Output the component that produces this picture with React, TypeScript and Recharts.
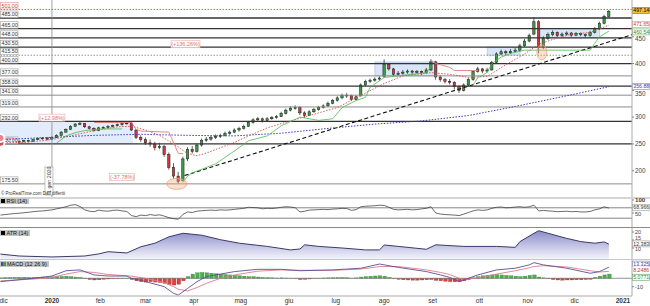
import React from 'react';
import {
  Area,
  Bar,
  ComposedChart,
  Line,
  ReferenceArea,
  ReferenceDot,
  ReferenceLine,
  XAxis,
  YAxis,
} from 'recharts';

const FONT = 'Arial, "Liberation Sans", sans-serif';
const X_DOMAIN: [number, number] = [-33.3, 371.8];
const FIRST_DAY = -33; // 28 nov 2019, days counted from 1 gen 2020
const STEP = 3;

const monthTicks = [-31, 0, 31, 60, 91, 121, 152, 182, 213, 244, 274, 305, 335, 366];
const monthNames = ['dic', '2020', 'feb', 'mar', 'apr', 'mag', 'giu', 'lug', 'ago', 'set', 'ott', 'nov', 'dic', '2021'];

// [open, high, low, close], one every 3 days
const candles: [number, number, number, number][] = [
  [251, 256, 249, 253], [253, 255, 250, 252], [252, 256, 251, 254], [254, 256, 251, 253], [253, 257, 252, 255],
  [255, 258, 253, 256], [256, 258, 253, 255], [255, 260, 254, 258], [258, 262, 257, 260], [260, 263, 258, 261],
  [261, 263, 257, 259], [259, 264, 258, 262], [262, 268, 261, 266], [266, 274, 265, 272], [272, 279, 271, 277],
  [277, 285, 276, 283], [283, 289, 282, 287], [287, 291, 285, 288], [288, 289, 280, 282], [282, 284, 277, 279],
  [279, 281, 273, 275], [275, 282, 274, 280], [280, 283, 278, 281], [281, 285, 279, 283], [283, 286, 281, 284],
  [284, 288, 283, 286], [286, 290, 284, 288], [288, 292, 286, 289], [289, 290, 274, 276], [276, 278, 259, 262],
  [262, 266, 254, 258], [258, 262, 248, 252], [252, 258, 245, 250], [250, 254, 238, 243], [243, 252, 240, 245],
  [245, 248, 226, 230], [230, 234, 202, 206], [206, 214, 185, 190], [190, 198, 175.5, 180], [182, 226, 180, 222],
  [222, 244, 218, 240], [240, 246, 232, 236], [236, 251, 234, 248], [248, 260, 245, 257], [257, 263, 254, 259],
  [259, 265, 256, 262], [262, 268, 259, 264], [264, 269, 261, 266], [266, 273, 264, 270], [270, 275, 267, 272],
  [272, 279, 270, 276], [276, 282, 273, 279], [279, 286, 277, 283], [283, 293, 282, 290], [290, 298, 288, 295],
  [295, 300, 292, 297], [297, 299, 290, 294], [294, 300, 292, 297], [297, 302, 295, 299], [299, 304, 297, 301],
  [301, 310, 300, 307], [307, 316, 305, 313], [313, 320, 311, 317], [317, 322, 314, 318], [318, 320, 304, 308],
  [308, 311, 299, 303], [303, 313, 302, 310], [310, 317, 308, 314], [314, 321, 312, 318], [318, 324, 316, 321],
  [321, 329, 319, 326], [326, 334, 324, 331], [331, 339, 329, 336], [336, 344, 334, 341], [341, 345, 336, 340],
  [340, 342, 330, 333], [333, 341, 331, 338], [340, 363, 338, 360], [360, 370, 358, 367], [367, 372, 364, 369],
  [369, 374, 366, 371], [371, 376, 368, 373], [376, 408, 374, 398], [398, 400, 387, 390], [390, 392, 376, 380],
  [380, 386, 377, 382], [382, 388, 379, 384], [384, 389, 381, 386], [386, 388, 380, 384], [384, 388, 381, 385],
  [385, 387, 379, 383], [383, 392, 381, 388], [388, 408, 386, 403], [403, 405, 370, 375], [375, 378, 366, 370],
  [370, 373, 363, 367], [367, 371, 361, 365], [365, 367, 352, 357], [357, 359, 345, 350], [350, 363, 348, 360],
  [360, 373, 357, 370], [370, 388, 368, 385], [385, 394, 383, 390], [390, 392, 382, 386], [386, 392, 383, 388],
  [388, 405, 387, 402], [402, 421, 400, 418], [418, 426, 416, 422], [422, 425, 416, 420], [420, 427, 418, 423],
  [423, 429, 421, 425], [425, 437, 423, 433], [433, 446, 431, 442], [442, 456, 440, 452], [455, 486, 453, 478],
  [478, 481, 419, 430], [430, 451, 427, 447], [447, 458, 444, 454], [454, 462, 451, 458], [458, 460, 449, 452],
  [452, 458, 450, 455], [455, 460, 452, 457], [457, 459, 450, 453], [453, 459, 451, 456], [456, 458, 451, 454],
  [454, 456, 449, 452], [452, 461, 450, 458], [458, 468, 456, 465], [465, 478, 463, 475], [475, 491, 473, 488],
  [488, 500, 486, 497],
];

// [candle index, value]
const ma20Pts: [number, number][] = [
  [0, 252], [5, 253], [10, 257], [15, 265], [20, 275], [25, 282], [28, 283], [31, 276], [34, 266], [37, 250],
  [40, 232], [42, 228], [44, 233], [47, 243], [50, 253], [53, 265], [57, 280], [60, 288], [64, 298], [68, 308],
  [72, 318], [78, 345], [82, 363], [86, 377], [92, 383], [96, 380], [100, 374], [104, 376], [108, 398],
  [112, 418], [115, 436], [118, 445], [122, 455], [126, 458], [130, 471.65],
];
const ma200Pts: [number, number][] = [
  [0, 258], [10, 262], [20, 266], [30, 268], [40, 266], [50, 265], [60, 270], [70, 279], [80, 287], [90, 293],
  [100, 303], [110, 320], [120, 338], [130, 356.88],
];
const greenStops: [number, number][][] = [
  [[12, 252], [13, 258], [14, 265], [16, 271], [18, 275], [22, 278], [26, 278]],
  [[39, 178], [40, 190], [41, 196], [46, 213], [50, 237], [53, 256], [57, 265], [60, 284], [64, 300], [68, 294],
    [71, 297], [73, 318], [76, 331], [78, 337], [79, 356], [82, 374], [91, 383], [92, 395]],
  [[101, 360], [102, 374], [103, 378], [104, 384], [105, 400], [107, 412], [109, 419], [112, 425], [126, 425],
    [127, 438], [128, 450], [130, 460.54]],
];
const redStops: [number, number][][] = [
  [[0, 261], [3, 261]],
  [[20, 290], [28, 290], [29, 277], [30, 274], [36, 272], [38, 232], [39, 232]],
  [[92, 406], [93, 400], [96, 393], [97, 387], [102, 387]],
];

const levels = [501, 485, 465, 448, 430.5, 415.5, 400, 377, 358, 341, 319, 292, 250, 175.5];
const strongLevels = [485, 465, 448, 430.5, 400, 358, 292, 250];

const rsi = [
  42, 44, 46, 48, 49, 51, 53, 55, 57, 58,
  60, 62, 66, 70, 74, 80, 82, 75, 62, 57,
  55, 61, 58, 57, 60, 61, 58, 56, 40, 36,
  42, 40, 44, 41, 43, 38, 32, 28, 26, 45,
  54, 52, 57, 59, 60, 61, 60, 62, 61, 62,
  64, 66, 68, 72, 71, 70, 66, 68, 67, 69,
  72, 74, 73, 70, 54, 57, 61, 62, 63, 64,
  63, 65, 66, 68, 67, 60, 63, 74, 76, 77,
  78, 80, 79, 72, 64, 62, 63, 64, 62, 63,
  66, 68, 74, 50, 46, 44, 43, 42, 40, 46,
  52, 58, 62, 60, 62, 68, 72, 73, 70, 71,
  73, 74, 72, 74, 80, 58, 60, 58, 57, 55,
  56, 57, 55, 56, 54, 54, 56, 62, 66, 74,
  68.966,
];
const atrPts: [number, number][] = [
  [0, 6.2], [4, 5], [11, 4.4], [18, 5], [21, 6.3], [23, 7.7], [27, 6.9], [30, 10.8], [33, 13], [36, 17],
  [39, 19.2], [43, 18], [47, 15.2], [51, 13], [57, 11], [62, 8.8], [64, 9.4], [65, 12], [68, 11], [73, 10],
  [78, 8.8], [81, 8.8], [82, 11.9], [85, 11], [91, 9.2], [93, 12], [99, 11], [106, 11], [110, 10.4], [111, 14],
  [114, 19.2], [115, 20.8], [117, 19.2], [121, 16], [124, 14], [127, 13], [129, 13.8], [130, 12.383],
];
const macdPts: [number, number][] = [
  [0, -4], [7, 0], [11, 2.7], [14, 9], [17, 10], [20, 4], [23, 2.7], [27, 2.7], [28, 0], [31, -4], [35, -10],
  [37, -18], [38, -20], [40, -12], [42, -4], [44, 2], [47, 5], [50, 8], [55, 10.7], [60, 10.7], [64, 9],
  [71, 10], [77, 12], [81, 17], [85, 13], [91, 8], [94, 4], [96, 1], [98, -4], [99, -2], [102, 4], [106, 10],
  [110, 12], [113, 16], [114, 18.6], [116, 16], [121, 12], [126, 6], [128, 8], [130, 13.325],
];
const signalPts: [number, number][] = [
  [0, -3], [7, -1], [11, 1], [14, 5], [17, 8], [20, 7], [23, 4.5], [27, 3], [28, 2.5], [31, 0], [35, -5],
  [37, -10], [38, -13], [40, -15], [42, -11], [44, -6], [47, 0], [50, 4], [55, 8.5], [60, 10], [64, 9.5],
  [71, 9.5], [77, 11], [81, 14], [85, 14], [91, 10], [94, 7], [96, 4.5], [98, 0], [99, -1], [102, 0.5],
  [106, 5], [110, 9], [113, 12.5], [114, 14], [116, 15], [121, 13.5], [126, 9], [128, 7.5], [130, 8.2486],
];
const macdHist = [
  0.5, 0.8, 1, 1, 1.2, 1.2, 1, 1,
  1.2, 1.5, 1.5, 1.8, 2, 2.2, 2.5, 2, 1.5,
  1, -0.5, -1.5, -2, -1.8, -1.2, -0.8, -0.5, -0.3, -0.2, 0.2,
  -1.5, -3, -4, -4.5, -4, -4.5, -5, -6, -7.5, -8, -7,
  -3, 2, 5, 6.5, 7, 6.5, 6, 5.5, 5, 4.5, 4, 3.5,
  3, 2.5, 2, 2, 1.5, 1, 0.8, 0.5, 0.3, 0.5,
  0.3, -0.2, -0.5, -1.5, -1.2, -0.8, -0.3, 0.2, 0.4, 0.5,
  0.6, 0.8, 0.9, 0.6, 0.2, 0.5, 1.5, 2, 2.5, 2.8,
  3, 2.5, 1, -0.5, -1.2, -1.8, -2, -2.2, -2.2, -2, -1.8, -1.5,
  -2.5, -3, -3.5, -4, -4.2, -4, -3, -1.5, 0.5,
  2, 3, 3.5, 4, 4.5, 4, 3.5, 3, 2.5, 2, 2.5,
  3.5, 4, 1.5, 0.5, -0.5, -1.5,
  -2, -2.2, -2, -2, -1.8, -1.8, -1.5, -1.2,
  1, 2.5, 4, 5.0771,
];

const put = (rows: any[], key: string, pts: [number, number][]) => {
  pts.forEach(([i, v]) => {
    rows[i][key] = v;
  });
};

const mainRows: any[] = candles.map(([o, h, l, c], i) => ({ day: FIRST_DAY + STEP * i, o, h, l, c, range: [l, h] }));
put(mainRows, 'ma20', ma20Pts);
put(mainRows, 'ma200', ma200Pts);
greenStops.forEach((s, k) => put(mainRows, `g${k}`, s));
redStops.forEach((s, k) => put(mainRows, `r${k}`, s));

const subRows: any[] = rsi.map((v, i) => ({ day: FIRST_DAY + STEP * i, rsi: v, hist: macdHist[i] }));
put(subRows, 'atr', atrPts);
put(subRows, 'macd', macdPts);
put(subRows, 'signal', signalPts);

function Candle(props: any) {
  const { x, y, width, height, payload } = props;
  if (x == null || !payload) return null;
  const top = Math.min(y, y + height);
  const span = Math.abs(height);
  const { o, h, l, c } = payload;
  const py = (v: number) => top + ((h - v) / (h - l || 1)) * span;
  const cx = x + width / 2;
  const bTop = py(Math.max(o, c));
  const bBot = py(Math.min(o, c));
  return (
    <g>
      <line x1={cx} x2={cx} y1={top} y2={top + span} stroke="#1a1a1a" strokeWidth={0.7} />
      <rect
        x={x}
        y={bTop}
        width={width}
        height={Math.max(bBot - bTop, 0.8)}
        fill={c >= o ? '#3a9a48' : '#cf3b3b'}
        stroke="#1a1a1a"
        strokeWidth={0.5}
      />
    </g>
  );
}

function HistBar(props: any) {
  const { x, y, width, height, payload } = props;
  if (x == null || !payload) return null;
  const top = Math.min(y, y + height);
  const pos = payload.hist >= 0;
  return (
    <rect
      x={x}
      y={top}
      width={width}
      height={Math.abs(height)}
      fill={pos ? '#4cae4c' : '#d9443f'}
      stroke={pos ? '#2e7d32' : '#a02020'}
      strokeWidth={0.3}
    />
  );
}

const leftTag = (text: string, color: string, border: string) => (p: any) => {
  const vb = p.viewBox;
  const x = vb.x + 0.5;
  return (
    <g>
      <rect x={x} y={vb.y - 7} width={17.5} height={6.5} fill="#fff" stroke={border} strokeWidth={0.6} />
      <text x={x + 1} y={vb.y - 1.9} fontSize={5.3} fill={color} fontFamily={FONT}>
        {text}
      </text>
    </g>
  );
};

const rightTag = (text: string, fill: string, stroke: string, color: string, dy = 0) => (p: any) => {
  const vb = p.viewBox;
  const x = vb.x + vb.width + 0.5;
  const cy = vb.y + dy;
  return (
    <g>
      <rect x={x} y={cy - 3} width={17} height={6} fill={fill} stroke={stroke} strokeWidth={0.6} />
      <text x={x + 0.8} y={cy + 1.8} fontSize={5.2} fill={color} fontFamily={FONT}>
        {text}
      </text>
    </g>
  );
};

const pctTag = (text: string, w: number) => (p: any) => (
  <g>
    <rect x={p.cx - w / 2} y={p.cy - 3.5} width={w} height={7} fill="#fff" stroke="#e6a8a8" strokeWidth={0.6} />
    <text x={p.cx} y={p.cy + 2} textAnchor="middle" fontSize={5.5} fill="#e07070" fontFamily={FONT}>
      {text}
    </text>
  </g>
);

const ellipse = (rx: number, ry: number) => (p: any) => (
  <ellipse cx={p.cx} cy={p.cy} rx={rx} ry={ry} fill="rgba(246,170,120,0.35)" stroke="#f0a070" strokeWidth={0.8} />
);

const janLabel = (p: any) => {
  const vb = p.viewBox;
  const x = vb.x;
  const yb = vb.y + vb.height;
  return (
    <g>
      <rect x={x - 7} y={yb - 30} width={8} height={28} fill="#fff" stroke="#999" strokeWidth={0.6} />
      <text transform={`translate(${x - 1.2},${yb - 4}) rotate(-90)`} fontSize={5.3} fill="#333" fontFamily={FONT}>
        1 gen 2020
      </text>
    </g>
  );
};

function MonthTick(props: any) {
  const { x, y, payload } = props;
  const label = monthNames[monthTicks.indexOf(payload.value)] ?? '';
  const bold = label.startsWith('20');
  return (
    <text x={x} y={y + 7} textAnchor="middle" fontSize={6.5} fontWeight={bold ? 700 : 400} fill="#333" fontFamily={FONT}>
      {label}
    </text>
  );
}

// right axis tick with small vertical nudges where tags sit next to it
const valueTick = (size: number, nudge: Record<number, number> = {}, boldValue?: number) => (props: any) => {
  const { x, y, payload } = props;
  const bold = payload.value === boldValue;
  return (
    <text
      x={x}
      y={y + size * 0.36 + (nudge[payload.value] ?? 0)}
      fontSize={bold ? size + 0.5 : size}
      fontWeight={bold ? 700 : 400}
      fill="#444"
      fontFamily={FONT}
    >
      {payload.value}
    </text>
  );
};

function PanelTag({ top, text, icon }: { top: number; text: string; icon?: boolean }) {
  return (
    <div
      style={{
        position: 'absolute',
        left: 0,
        top,
        height: 6,
        padding: '0 2px 0 1px',
        background: '#c4c4c4',
        fontSize: 5.5,
        lineHeight: '6px',
        fontFamily: FONT,
        color: '#111',
        display: 'flex',
        alignItems: 'center',
        gap: 1.5,
      }}
    >
      {icon ? (
        <span style={{ display: 'flex', height: 4 }}>
          <span style={{ width: 1.5, background: '#4a4aa0' }} />
          <span style={{ width: 1.5, background: '#d05070' }} />
          <span style={{ width: 1.5, background: '#40a040' }} />
        </span>
      ) : (
        <span style={{ width: 4, height: 4, background: '#000' }} />
      )}
      {text}
    </div>
  );
}

export default function App() {
  return (
    <div style={{ position: 'fixed', left: 0, top: 0, width: 650, height: 306, background: '#fff', overflow: 'hidden' }}>
      <div style={{ position: 'absolute', left: 0, top: 0 }}>
        <ComposedChart width={650} height={197} data={mainRows} margin={{ top: 0, right: 0, bottom: 0, left: 0 }}>
          <XAxis dataKey="day" type="number" domain={X_DOMAIN} hide allowDataOverflow />
          <YAxis
            orientation="right"
            width={18}
            domain={[151, 518.6]}
            ticks={[200, 250, 300, 350, 400, 450]}
            interval={0}
            allowDataOverflow
            tick={valueTick(6.3, { 350: 3.2, 450: 1.8 })}
            tickSize={2}
            tickMargin={1}
            axisLine={{ stroke: '#aaa' }}
            tickLine={{ stroke: '#888' }}
          />
          <ReferenceArea x1={-33.3} x2={52} y1={250} y2={292} fill="#cfe0f6" fillOpacity={0.6} stroke="none" />
          <ReferenceArea x1={207} x2={247} y1={377} y2={403} fill="#cfe0f6" fillOpacity={0.8} stroke="#9fbbe2" strokeWidth={0.6} />
          <ReferenceArea x1={279} x2={300} y1={415.5} y2={430.5} fill="#cfe0f6" fillOpacity={0.8} stroke="#9fbbe2" strokeWidth={0.6} />
          <ReferenceArea x1={313} x2={351} y1={448} y2={465} fill="#cfe0f6" fillOpacity={0.8} stroke="#9fbbe2" strokeWidth={0.6} />
          {levels.map((v) => {
            const red = v === 501;
            const dotted = v === 415.5;
            const strong = strongLevels.includes(v);
            return (
              <ReferenceLine
                key={v}
                y={v}
                stroke={red ? '#e05050' : dotted ? '#888' : strong ? '#333' : '#8c8c8c'}
                strokeWidth={red || dotted ? 0.9 : strong ? 1.3 : 1}
                strokeDasharray={red || dotted ? '1.5 1.5' : undefined}
                label={leftTag(v.toFixed(2), red ? '#d04040' : '#333', red ? '#e09090' : '#999')}
              />
            );
          })}
          <ReferenceLine x={0} stroke="#8a8a8a" strokeWidth={0.8} label={janLabel} />
          <ReferenceLine
            segment={[
              { x: 85, y: 191 },
              { x: 371.8, y: 454 },
            ]}
            stroke="#111"
            strokeWidth={1.1}
            strokeDasharray="4 2.5"
          />
          <Line dataKey="ma200" stroke="#3c3cb4" strokeWidth={1} strokeDasharray="1.5 1.5" dot={false} connectNulls isAnimationActive={false} />
          <Line dataKey="ma20" stroke="#d84a4a" strokeWidth={0.9} strokeDasharray="1.5 1.5" dot={false} connectNulls isAnimationActive={false} />
          {greenStops.map((_, k) => (
            <Line key={`g${k}`} dataKey={`g${k}`} type="linear" stroke="#4cbb4c" strokeWidth={0.8} dot={false} connectNulls isAnimationActive={false} />
          ))}
          {redStops.map((_, k) => (
            <Line key={`r${k}`} dataKey={`r${k}`} type="linear" stroke="#e58a8a" strokeWidth={1} dot={false} connectNulls isAnimationActive={false} />
          ))}
          <Bar dataKey="range" barSize={2.4} shape={Candle} isAnimationActive={false} />
          <ReferenceDot x={80} y={175.5} shape={ellipse(10, 5.5)} />
          <ReferenceDot x={314} y={421} shape={ellipse(5, 7.5)} />
          <ReferenceDot x={0} y={299} shape={pctTag('(+12.98%)', 26)} />
          <ReferenceDot x={45} y={188} shape={pctTag('(-37.78%)', 25)} />
          <ReferenceDot x={85.6} y={436} shape={pctTag('(+136.26%)', 29)} />
          <ReferenceLine y={497.14} stroke="none" label={rightTag('497.14', '#f2c232', '#8a6d00', '#000', -1)} />
          <ReferenceLine y={471.65} stroke="none" label={rightTag('471.65', '#fff', '#e09090', '#d04040', -0.6)} />
          <ReferenceLine y={460.54} stroke="none" label={rightTag('460.54', '#fff', '#60b060', '#2a8a2a', 0.8)} />
          <ReferenceLine y={356.88} stroke="none" label={rightTag('356.88', '#fff', '#8080c0', '#4040a0')} />
        </ComposedChart>
      </div>
      <div style={{ position: 'absolute', left: 1, top: 191, fontSize: 4.5, fontFamily: FONT, color: '#333', lineHeight: '5px' }}>
        © ProRealTime.com Dati differiti
      </div>
      <div style={{ position: 'absolute', left: 0, top: 197, width: 650, height: 2, background: '#d6d6d6' }} />

      <div style={{ position: 'absolute', left: 0, top: 195 }}>
        <ComposedChart width={650} height={32} data={subRows} margin={{ top: 4, right: 0, bottom: 0, left: 0 }}>
          <XAxis dataKey="day" type="number" domain={X_DOMAIN} hide allowDataOverflow />
          <YAxis
            orientation="right"
            width={18}
            domain={[-3.85, 103.85]}
            ticks={[50, 100]}
            interval={0}
            allowDataOverflow
            tick={valueTick(5.6, { 50: 1.2 }, 100)}
            tickSize={2}
            tickMargin={1}
            axisLine={{ stroke: '#aaa' }}
            tickLine={{ stroke: '#888' }}
          />
          <ReferenceLine y={70} stroke="#777" strokeWidth={0.9} />
          <ReferenceLine y={30} stroke="#777" strokeWidth={0.9} />
          <Line dataKey="rsi" stroke="#444" strokeWidth={0.8} dot={false} isAnimationActive={false} />
          <ReferenceLine y={68.966} stroke="none" label={rightTag('68.966', '#fff', '#999', '#333', -0.6)} />
        </ComposedChart>
      </div>
      <PanelTag top={197.5} text="RSI (14)" />
      <div style={{ position: 'absolute', left: 0, top: 227, width: 650, height: 1, background: '#8a8a8a' }} />

      <div style={{ position: 'absolute', left: 0, top: 228 }}>
        <ComposedChart width={650} height={31} data={subRows} margin={{ top: 0, right: 0, bottom: 0, left: 0 }}>
          <defs>
            <linearGradient id="atrFill" x1="0" y1="0" x2="0" y2="1">
              <stop offset="0%" stopColor="#8585c6" stopOpacity={0.95} />
              <stop offset="100%" stopColor="#f2f2fb" stopOpacity={0.9} />
            </linearGradient>
          </defs>
          <XAxis dataKey="day" type="number" domain={X_DOMAIN} hide allowDataOverflow />
          <YAxis
            orientation="right"
            width={18}
            domain={[3.125, 22.5]}
            ticks={[10, 15, 20]}
            interval={0}
            allowDataOverflow
            tick={valueTick(5.4, { 15: -1.6, 10: 1.4, 20: -0.3 })}
            tickSize={2}
            tickMargin={1}
            axisLine={{ stroke: '#aaa' }}
            tickLine={{ stroke: '#888' }}
          />
          <Area
            dataKey="atr"
            baseValue={3.125}
            stroke="#3a3a6a"
            strokeWidth={1}
            fill="url(#atrFill)"
            fillOpacity={1}
            connectNulls
            dot={false}
            isAnimationActive={false}
          />
          <ReferenceLine y={12.383} stroke="none" label={rightTag('12.383', '#fff', '#999', '#333', -0.3)} />
        </ComposedChart>
      </div>
      <PanelTag top={229.5} text="ATR (14)" />
      <div style={{ position: 'absolute', left: 0, top: 258.5, width: 650, height: 1.5, background: '#c8c8c8' }} />

      <div style={{ position: 'absolute', left: 0, top: 260 }}>
        <ComposedChart width={650} height={46} data={subRows} margin={{ top: 0, right: 0, bottom: 0, left: 0 }}>
          <XAxis
            dataKey="day"
            type="number"
            domain={X_DOMAIN}
            allowDataOverflow
            ticks={monthTicks}
            interval={0}
            height={10}
            tick={MonthTick}
            tickSize={0}
            tickMargin={0}
            axisLine={{ stroke: '#aaa' }}
          />
          <YAxis
            orientation="right"
            width={18}
            domain={[-21.1, 21.8]}
            ticks={[-10]}
            interval={0}
            allowDataOverflow
            tick={valueTick(5.6)}
            tickSize={2}
            tickMargin={1}
            axisLine={{ stroke: '#aaa' }}
            tickLine={{ stroke: '#888' }}
          />
          <ReferenceLine y={0} stroke="#777" strokeWidth={0.8} />
          <Bar dataKey="hist" barSize={3.6} shape={HistBar} isAnimationActive={false} />
          <Line dataKey="signal" stroke="#e07a8a" strokeWidth={0.9} dot={false} connectNulls isAnimationActive={false} />
          <Line dataKey="macd" stroke="#5b4e96" strokeWidth={0.9} dot={false} connectNulls isAnimationActive={false} />
          <ReferenceLine y={13.325} stroke="none" label={rightTag('13.325', '#fff', '#7070c0', '#4040a0', -3)} />
          <ReferenceLine y={8.2486} stroke="none" label={rightTag('8.2486', '#fff', '#fff', '#d03030', -1.4)} />
          <ReferenceLine y={5.0771} stroke="none" label={rightTag('5.0771', '#fff', '#50a050', '#2a8a2a', 3.2)} />
        </ComposedChart>
      </div>
      <PanelTag top={261} text="MACD (12 26 9)" icon />
    </div>
  );
}
